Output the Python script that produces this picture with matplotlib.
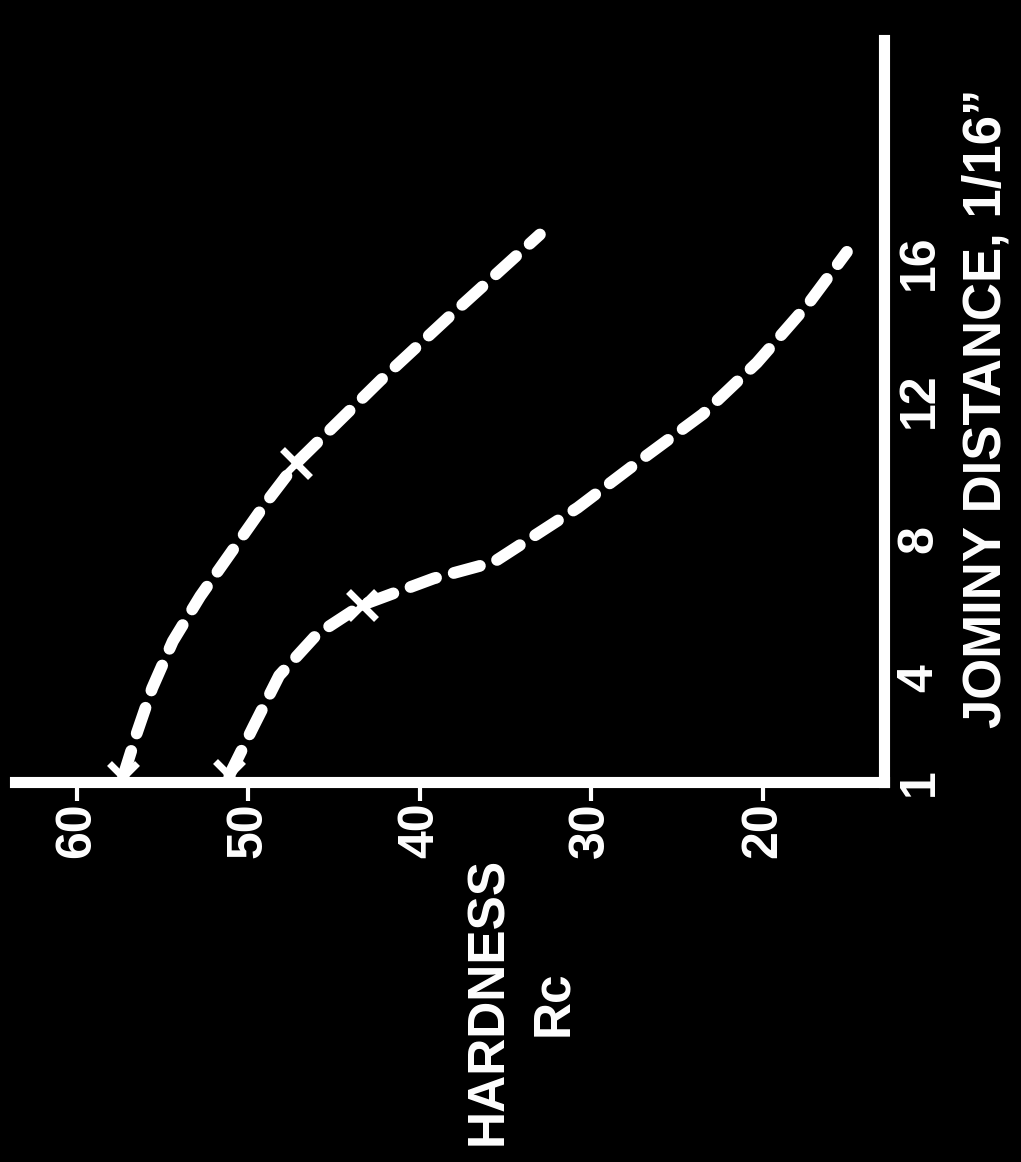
import matplotlib
matplotlib.use("Agg")
import matplotlib.pyplot as plt

# Jominy end-quench curves (hardness Rc vs distance in 1/16")
# chart is drawn turned on its side like the scan: hardness runs along the
# bottom (high values to the left), distance runs up the right side
upper_dist = [1.15, 2.41, 3.71, 5.06, 6.36, 9.10, 10.2, 12.58, 14.37, 16.79]
upper_hrc = [57.3, 56.5, 55.6, 54.4, 52.8, 48.9, 47.2, 42.3, 38.4, 33.0]

lower_dist = [1.2, 2.6, 4.07, 5.26, 6.10, 6.87, 7.34, 8.91, 10.26, 11.61, 13.09, 14.76, 16.29]
lower_hrc = [51.1, 49.7, 48.2, 46.0, 43.4, 39.2, 35.7, 30.8, 27.2, 23.5, 20.35, 17.4, 15.1]

# marked points on each curve
upper_mark_dist = [1.15, 10.2]
upper_mark_hrc = [57.3, 47.2]
lower_mark_dist = [1.2, 6.10]
lower_mark_hrc = [51.1, 43.4]

hrc_ticks = [60, 50, 40, 30, 20]
dist_ticks = [1, 4, 8, 12, 16]

plt.rcParams['font.family'] = ['Liberation Sans', 'DejaVu Sans']
plt.rcParams['font.weight'] = 'bold'

fig = plt.figure(figsize=(10.21, 11.62), dpi=100, facecolor='black')
ax = fig.add_axes([0.0147, 0.327, 0.8511, 0.6386], facecolor='black')

dash = (0, (2.3, 1.55))
for d, h in [(upper_dist, upper_hrc), (lower_dist, lower_hrc)]:
    ax.plot(h, d, color='white', lw=8.5, linestyle=dash,
            dash_capstyle='round', solid_capstyle='round')

ax.plot(upper_mark_hrc, upper_mark_dist, linestyle='none', marker='x',
        ms=20, mew=5, color='white')
ax.plot(lower_mark_hrc, lower_mark_dist, linestyle='none', marker='x',
        ms=20, mew=5, color='white')

ax.set_xlim(63.6, 12.94)
ax.set_ylim(1, 22.4)

for side in ['top', 'left']:
    ax.spines[side].set_visible(False)
for side in ['bottom', 'right']:
    ax.spines[side].set_color('white')
    ax.spines[side].set_linewidth(8)
    ax.spines[side].set_capstyle('projecting')

ax.set_xticks(hrc_ticks)
ax.set_xticklabels([str(v) for v in hrc_ticks], rotation=90, fontsize=36,
                   fontweight='bold', color='white')
ax.tick_params(axis='x', direction='out', length=14, width=3, color='white', pad=1)

ax.yaxis.tick_right()
ax.set_yticks(dist_ticks)
ax.set_yticklabels([str(v) for v in dist_ticks], rotation=90, fontsize=36,
                   fontweight='bold', color='white', va='center')
ax.tick_params(axis='y', length=0, pad=9)

fig.text(489 / 1021, 1 - 1001 / 1162, 'HARDNESS', rotation=90, color='white',
         fontsize=37, fontweight='bold', ha='center', va='center')
fig.text(554 / 1021, 1 - 1003 / 1162, 'Rc', rotation=90, color='white',
         fontsize=37, fontweight='bold', ha='center', va='center')
fig.text(986 / 1021, 1 - 408 / 1162, 'JOMINY DISTANCE, 1/16\u201d', rotation=90,
         color='white', fontsize=38, fontweight='bold', ha='center', va='center')

fig.savefig('out.png', dpi=100, facecolor='black')
